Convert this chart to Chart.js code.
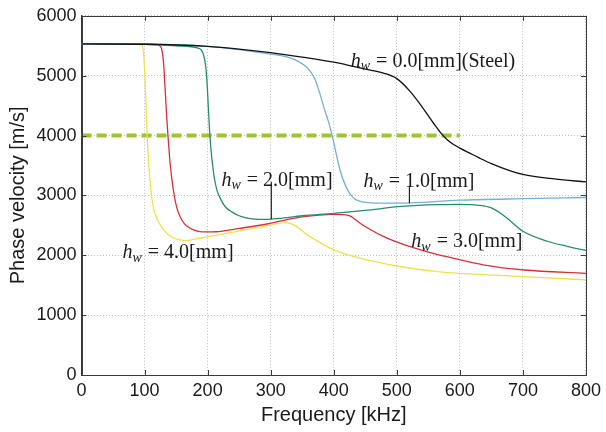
<!DOCTYPE html>
<html>
<head>
<meta charset="utf-8">
<script src="https://cdn.jsdelivr.net/npm/chart.js@4.4.3/dist/chart.umd.min.js"></script>
<style>
  html, body { margin: 0; padding: 0; background: #ffffff; }
  #wrap { width: 606px; height: 432px; }
</style>
</head>
<body>
<div id="wrap"><canvas id="chart" width="606" height="432"></canvas></div>
<script>
// axis ticks
const freqTicks = [0, 100, 200, 300, 400, 500, 600, 700, 800];
const velTicks = [0, 1000, 2000, 3000, 4000, 5000, 6000];

// hw = 0.0 mm (steel)
const freqSteel = [0, 100, 200, 250, 300, 350, 400, 450, 480, 500, 520, 540, 560, 570, 580, 590, 600, 615, 630, 650, 680, 700, 750, 800];
const velSteel = [5530, 5525, 5490, 5445, 5385, 5310, 5225, 5110, 5040, 4950, 4750, 4480, 4180, 4040, 3930, 3850, 3790, 3710, 3630, 3530, 3410, 3350, 3275, 3225];

// hw = 1.0 mm
const freqHw1 = [0, 100, 200, 300, 330, 345, 355, 363, 371, 378, 385, 392, 397, 403, 410, 418, 426, 435, 445, 460, 500, 600, 700, 800];
const velHw1 = [5530, 5525, 5490, 5360, 5300, 5230, 5160, 5070, 4920, 4700, 4450, 4220, 4020, 3740, 3420, 3180, 3020, 2930, 2890, 2875, 2870, 2920, 2945, 2965];

// hw = 2.0 mm
const freqHw2 = [0, 100, 150, 185, 190, 194, 197, 199, 201, 203, 205, 208, 211, 215, 220, 228, 239, 250, 261, 275, 292, 313, 350, 400, 450, 508, 565, 600, 630, 650, 670, 700, 740, 770, 800];
const velHw2 = [5530, 5525, 5500, 5460, 5430, 5330, 5150, 4900, 4500, 4100, 3800, 3500, 3270, 3080, 2950, 2810, 2720, 2660, 2625, 2605, 2600, 2615, 2660, 2700, 2750, 2815, 2846, 2850, 2835, 2790, 2660, 2400, 2230, 2150, 2080];

// hw = 3.0 mm
const freqHw3 = [0, 100, 120, 124, 127, 129, 131, 133, 135, 137, 140, 143, 147, 151, 156, 163, 171, 185, 200, 213, 250, 292, 313, 350, 400, 423, 444, 476, 508, 550, 581, 639, 702, 800];
const velHw3 = [5530, 5525, 5520, 5500, 5450, 5330, 5080, 4700, 4330, 4020, 3600, 3300, 3000, 2800, 2650, 2530, 2460, 2400, 2390, 2393, 2448, 2518, 2565, 2640, 2682, 2666, 2518, 2328, 2190, 2054, 1972, 1836, 1754, 1698];

// hw = 4.0 mm
const freqHw4 = [0, 90, 95, 97, 99, 100.5, 102, 104, 106, 108, 110.5, 113, 117, 122, 128, 134, 142, 150, 166, 187, 239, 292, 323, 339, 360, 402, 455, 508, 565, 700, 800];
const velHw4 = [5530, 5525, 5515, 5480, 5300, 5000, 4600, 4020, 3620, 3330, 3050, 2850, 2680, 2560, 2460, 2382, 2310, 2272, 2246, 2284, 2382, 2492, 2546, 2492, 2328, 2082, 1918, 1808, 1726, 1644, 1590];

// reference level
const freqLimit = [0, 600];
const velLimit = [4000, 4000];

// curve labels: [frequency, velocity, text after "h_w"]
const curveLabels = [
  [427, 5234, " = 0.0[mm](Steel)"],
  [222, 3251, " = 2.0[mm]"],
  [447, 3234, " = 1.0[mm]"],
  [523, 2218, " = 3.0[mm]"],
  [65, 2038, " = 4.0[mm]"],
];

// leader lines: [frequency, velocity from, velocity to]
const leaderLines = [
  [301, 3230, 2600],
  [520, 3160, 2870],
];

const toPoints = (xs, ys) => xs.map((x, i) => ({ x, y: ys[i] }));

function curve(label, xs, ys, color) {
  return {
    label,
    data: toPoints(xs, ys),
    borderColor: color,
    borderWidth: 1.3,
    pointRadius: 0,
    cubicInterpolationMode: "monotone",
    fill: false,
  };
}

const boxColor = "#3a3a3a";
const gridColor = "#bdbdbd";
const tickFont = { family: "'Liberation Sans', Arial, sans-serif", size: 18 };
const titleFont = { family: "'Liberation Sans', Arial, sans-serif", size: 20 };
const serif = "'Liberation Serif', 'Times New Roman', serif";

const frameAndLabels = {
  id: "frameAndLabels",
  afterDraw(chart) {
    const { ctx, chartArea: a, scales } = chart;
    const xs = scales.x;
    const ys = scales.y;
    ctx.save();
    // inward tick marks on all four sides
    ctx.strokeStyle = boxColor;
    ctx.lineWidth = 1;
    ctx.beginPath();
    freqTicks.forEach((f) => {
      const px = Math.round(xs.getPixelForValue(f)) + 0.5;
      ctx.moveTo(px, a.bottom);
      ctx.lineTo(px, a.bottom - 5);
      ctx.moveTo(px, a.top);
      ctx.lineTo(px, a.top + 5);
    });
    velTicks.forEach((v) => {
      const py = Math.round(ys.getPixelForValue(v)) + 0.5;
      ctx.moveTo(a.left, py);
      ctx.lineTo(a.left + 5, py);
      ctx.moveTo(a.right, py);
      ctx.lineTo(a.right - 5, py);
    });
    ctx.stroke();
    ctx.strokeRect(Math.round(a.left) + 0.5, Math.round(a.top) + 0.5,
      Math.round(a.right - a.left), Math.round(a.bottom - a.top));

    // leader lines
    ctx.strokeStyle = "#222";
    ctx.lineWidth = 1.2;
    leaderLines.forEach(([f, v1, v2]) => {
      const px = xs.getPixelForValue(f);
      ctx.beginPath();
      ctx.moveTo(px, ys.getPixelForValue(v1));
      ctx.lineTo(px, ys.getPixelForValue(v2));
      ctx.stroke();
    });

    // h_w labels
    ctx.fillStyle = "#1a1a1a";
    ctx.textBaseline = "middle";
    ctx.textAlign = "left";
    curveLabels.forEach(([f, v, rest]) => {
      let px = xs.getPixelForValue(f);
      const py = ys.getPixelForValue(v);
      ctx.font = `italic 20px ${serif}`;
      ctx.fillText("h", px, py);
      px += ctx.measureText("h").width;
      ctx.font = `italic 14px ${serif}`;
      ctx.fillText("w", px, py + 5);
      px += ctx.measureText("w").width + 1;
      ctx.font = `20px ${serif}`;
      ctx.fillText(rest, px, py);
    });
    ctx.restore();
  },
};

new Chart(document.getElementById("chart"), {
  type: "line",
  data: {
    datasets: [
      curve("hw = 0.0 mm (Steel)", freqSteel, velSteel, "#111111"),
      curve("hw = 1.0 mm", freqHw1, velHw1, "#78aed6"),
      curve("hw = 2.0 mm", freqHw2, velHw2, "#2a8a70"),
      curve("hw = 3.0 mm", freqHw3, velHw3, "#d8303a"),
      curve("hw = 4.0 mm", freqHw4, velHw4, "#f0e04e"),
      {
        label: "4000 m/s",
        data: toPoints(freqLimit, velLimit),
        borderColor: "#9ec62a",
        borderWidth: 4,
        borderDash: [10, 5],
        pointRadius: 0,
        fill: false,
      },
    ],
  },
  options: {
    responsive: false,
    animation: false,
    layout: { padding: { left: 0, right: 18, top: 9, bottom: 0 } },
    plugins: {
      legend: { display: false },
      tooltip: { enabled: false },
    },
    scales: {
      x: {
        type: "linear",
        min: 0,
        max: 800,
        afterBuildTicks(scale) {
          scale.ticks = freqTicks.map((value) => ({ value }));
        },
        afterFit(scale) {
          scale.height = 57;
        },
        ticks: {
          font: tickFont,
          color: "#1a1a1a",
          padding: 5,
          maxRotation: 0,
          callback: (value) => String(value),
        },
        grid: { color: gridColor, drawTicks: false, lineWidth: 1 },
        border: { color: boxColor, dash: [1, 2] },
        title: {
          display: true,
          text: "Frequency [kHz]",
          font: titleFont,
          color: "#1a1a1a",
          padding: { top: 0, bottom: 5 },
        },
      },
      y: {
        type: "linear",
        min: 0,
        max: 6000,
        afterBuildTicks(scale) {
          scale.ticks = velTicks.map((value) => ({ value }));
        },
        afterFit(scale) {
          scale.width = 81.5;
        },
        ticks: {
          font: tickFont,
          color: "#1a1a1a",
          padding: 5,
          callback: (value) => String(value),
        },
        grid: { color: gridColor, drawTicks: false, lineWidth: 1 },
        border: { color: boxColor, dash: [1, 2] },
        title: {
          display: true,
          text: "Phase velocity [m/s]",
          font: titleFont,
          color: "#1a1a1a",
          padding: { top: 6, bottom: 0 },
        },
      },
    },
  },
  plugins: [frameAndLabels],
});
</script>
</body>
</html>
